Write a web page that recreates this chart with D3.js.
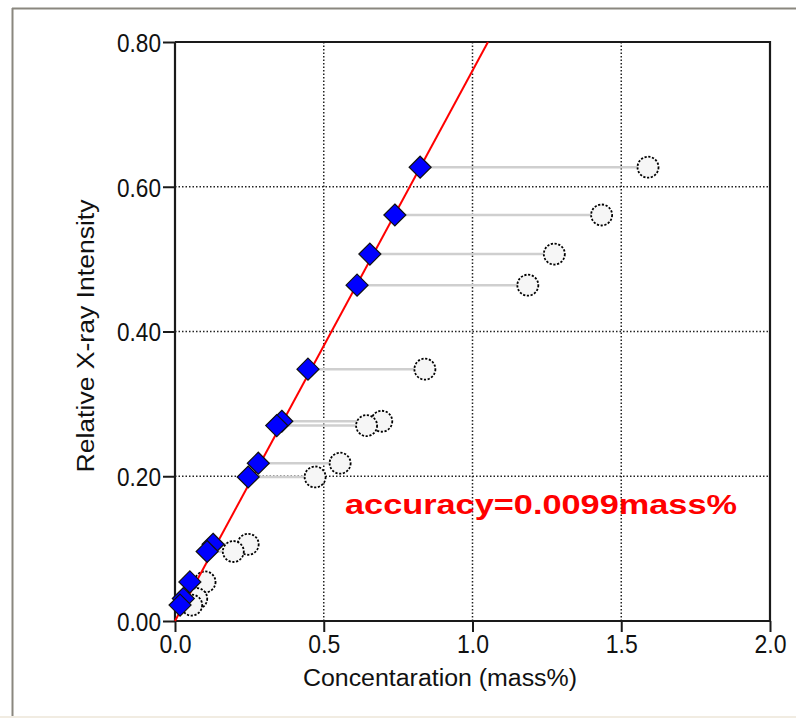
<!DOCTYPE html>
<html><head><meta charset="utf-8">
<script src="https://cdn.jsdelivr.net/npm/d3@7"></script>
<style>
html,body{margin:0;padding:0;background:#fff;}
svg{display:block;}
</style></head>
<body>
<script>
// ---- data ----
const intensity   = [0.627,0.561,0.507,0.464,0.348,0.276,0.270,0.218,0.199,0.106,0.096,0.054,0.031,0.022];
const corrected   = [0.824,0.739,0.655,0.612,0.447,0.359,0.342,0.280,0.246,0.128,0.108,0.050,0.028,0.017];
const original    = [1.590,1.434,1.275,1.186,0.840,0.695,0.644,0.555,0.471,0.246,0.196,0.101,0.073,0.056];
const fitLineX    = [0, 1.052];
const fitLineY    = [0, 0.80];
const xTicks      = [0, 0.5, 1.0, 1.5, 2.0];
const xTickLabels = ["0.0","0.5","1.0","1.5","2.0"];
const yTicks      = [0, 0.2, 0.4, 0.6, 0.8];
const yTickLabels = ["0.00","0.20","0.40","0.60","0.80"];
const xTitle = "Concentaration (mass%)";
const yTitle = "Relative X-ray Intensity";
const note   = "accuracy=0.0099mass%";

const W = 796, H = 718;
const L = 175, R = 770, T = 42, B = 621;
const svg = d3.select("body").append("svg").attr("width", W).attr("height", H);

// outer frame
svg.append("rect").attr("x",0).attr("y",0).attr("width",W).attr("height",H).attr("fill","#fff");
svg.append("rect").attr("x",0).attr("y",716).attr("width",W).attr("height",2).attr("fill","#f1ece2");
svg.append("line").attr("x1",12).attr("x2",W).attr("y1",8.5).attr("y2",8.5).attr("stroke","#8a877f").attr("stroke-width",2);
svg.append("line").attr("x1",12.5).attr("x2",12.5).attr("y1",8).attr("y2",716).attr("stroke","#8a877f").attr("stroke-width",2);

const x = d3.scaleLinear().domain([0, 2]).range([L, R]);
const y = d3.scaleLinear().domain([0, 0.8]).range([B, T]);

const font = "'Liberation Sans', Arial, sans-serif";

// grid
const g = svg.append("g");
g.selectAll(".gx").data(xTicks.slice(1, -1)).join("line")
  .attr("x1", d => x(d)).attr("x2", d => x(d)).attr("y1", T).attr("y2", B)
  .attr("stroke", "#222").attr("stroke-width", 1.5).attr("stroke-dasharray", "1.5,2");
g.selectAll(".gy").data(yTicks.slice(1, -1)).join("line")
  .attr("x1", L).attr("x2", R).attr("y1", d => y(d)).attr("y2", d => y(d))
  .attr("stroke", "#222").attr("stroke-width", 1.5).attr("stroke-dasharray", "1.5,2");

// plot box (top/right)
svg.append("path").attr("d", `M${L},${T}H${R}V${B}`).attr("fill","none")
  .attr("stroke","#1a1a1a").attr("stroke-width",2.2);

// axes
const xAxis = d3.axisBottom(x).tickValues(xTicks).tickFormat((d,i) => xTickLabels[i]).tickSize(11).tickPadding(2);
const yAxis = d3.axisLeft(y).tickValues(yTicks).tickFormat((d,i) => yTickLabels[i]).tickSize(12).tickPadding(2);
const gx = svg.append("g").attr("transform", `translate(0,${B})`).call(xAxis);
const gy = svg.append("g").attr("transform", `translate(${L},0)`).call(yAxis);
[gx, gy].forEach(a => {
  a.select(".domain").attr("stroke","#1a1a1a").attr("stroke-width",2.2);
  a.selectAll(".tick line").attr("stroke","#1a1a1a").attr("stroke-width",2);
  a.selectAll(".tick text").attr("fill","#111").style("font-family",font).style("font-size","26px")
    .attr("lengthAdjust","spacingAndGlyphs");
});
gx.select(".domain").attr("d", `M${L},0H${R}`);
gy.select(".domain").attr("d", `M0,${B}V${T}`);
gx.selectAll(".tick text").attr("dy","0.74em").attr("textLength",32);
gy.selectAll(".tick text").attr("dy","0.36em").attr("textLength",44);

// connectors
const idx = d3.range(intensity.length);
svg.append("g").selectAll("line").data(idx).join("line")
  .attr("x1", i => x(corrected[i])).attr("x2", i => x(original[i]))
  .attr("y1", i => y(intensity[i])).attr("y2", i => y(intensity[i]))
  .attr("stroke","#cfcfcf").attr("stroke-width",2.5);

// original circles
svg.append("g").selectAll("circle").data(idx).join("circle")
  .attr("cx", i => x(original[i])).attr("cy", i => y(intensity[i])).attr("r", 10.5)
  .attr("fill","#f6f6f6").attr("stroke","#000").attr("stroke-width",1.8).attr("stroke-dasharray","2.2,1.6");

// fit line
svg.append("line")
  .attr("x1", x(fitLineX[0])).attr("y1", y(fitLineY[0]))
  .attr("x2", x(fitLineX[1])).attr("y2", y(fitLineY[1]))
  .attr("stroke","#ff0000").attr("stroke-width",2);

// corrected diamonds
const s = 11;
svg.append("g").selectAll("path").data(idx).join("path")
  .attr("d", i => { const cx = x(corrected[i]), cy = y(intensity[i]);
    return `M${cx},${cy-s}L${cx+s},${cy}L${cx},${cy+s}L${cx-s},${cy}Z`; })
  .attr("fill","#0000ff").attr("stroke","#111").attr("stroke-width",1.2);

// note
svg.append("text").attr("x",345).attr("y",514).text(note)
  .attr("fill","#ff0000").style("font-family",font).style("font-weight","bold").style("font-size","27px")
  .attr("textLength",392).attr("lengthAdjust","spacingAndGlyphs");

// titles
svg.append("text").attr("x",440).attr("y",686).attr("text-anchor","middle").text(xTitle)
  .attr("fill","#111").style("font-family",font).style("font-size","23px")
  .attr("textLength",274).attr("lengthAdjust","spacingAndGlyphs");
svg.append("text").attr("transform","translate(94,336) rotate(-90)").attr("text-anchor","middle").text(yTitle)
  .attr("fill","#111").style("font-family",font).style("font-size","23px")
  .attr("textLength",273).attr("lengthAdjust","spacingAndGlyphs");
</script>
</body></html>
